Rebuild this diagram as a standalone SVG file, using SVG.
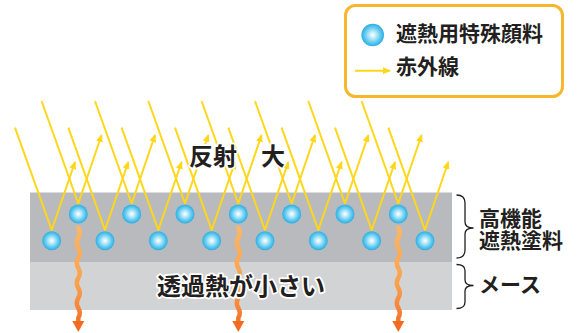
<svg xmlns="http://www.w3.org/2000/svg" width="577" height="333" viewBox="0 0 577 333">
  <defs>
    <radialGradient id="pg" cx="50%" cy="50%" r="50%">
      <stop offset="0" stop-color="#ffffff"/>
      <stop offset="0.25" stop-color="#c8eefb"/>
      <stop offset="0.7" stop-color="#5ec9ef"/>
      <stop offset="1" stop-color="#2badE2"/>
    </radialGradient>
    <linearGradient id="wg" x1="0" y1="0" x2="0" y2="1">
      <stop offset="0" stop-color="#fdb662"/>
      <stop offset="0.6" stop-color="#f9a04c"/>
      <stop offset="1" stop-color="#f3722a"/>
    </linearGradient>
    <marker id="ah" viewBox="0 0 8 7" refX="7" refY="3.5" markerWidth="8" markerHeight="7" markerUnits="userSpaceOnUse" orient="auto">
      <path d="M0,0 L8,3.5 L0,7 z" fill="#ffd71a"/>
    </marker>
  </defs>
  <style>
    .ray{fill:none;stroke:#ffd71a;stroke-width:2;stroke-linejoin:miter;marker-end:url(#ah)}
    .p{fill:url(#pg)}
    .wave{fill:none;stroke:url(#wg);stroke-width:4.5;stroke-linecap:round}
    .wh{fill:#f26b21}
    .t{font-family:"Noto Sans CJK JP","Noto Sans",sans-serif;font-weight:700;fill:#231f20}
    .halo{stroke:#ffffff;stroke-width:3.5;paint-order:stroke;stroke-linejoin:round}
    .brace{fill:none;stroke:#231f20;stroke-width:1.3}
  </style>

  <g id="layers">
    <rect id="coating" x="30" y="192.5" width="422" height="69.5" fill="#b9babd"/>
    <rect id="base" x="30" y="262" width="422" height="48" fill="#d2d3d5"/>
  </g>

  <g id="connectors">
    <polyline class="ray" points="41.6,101 78.3,203.5 101.6,135"/>
    <polyline class="ray" points="95,101 131.7,203.5 155,135"/>
    <polyline class="ray" points="148.3,101 185,203.5 208.3,135"/>
    <polyline class="ray" points="201.6,101 238.3,203.5 261.6,135"/>
    <polyline class="ray" points="255,101 291.7,203.5 315,135"/>
    <polyline class="ray" points="308.3,101 345,203.5 368.3,135"/>
    <polyline class="ray" points="361.6,101 398.3,203.5 421.6,135"/>
    <polyline class="ray" points="15,127.7 51.7,230 75,162"/>
    <polyline class="ray" points="68.3,127.7 105,230 128.3,162"/>
    <polyline class="ray" points="121.6,127.7 158.3,230 181.6,162"/>
    <polyline class="ray" points="175,127.7 211.7,230 235,162"/>
    <polyline class="ray" points="228.3,127.7 265,230 288.3,162"/>
    <polyline class="ray" points="281.6,127.7 318.3,230 341.6,162"/>
    <polyline class="ray" points="335,127.7 371.7,230 395,162"/>
    <polyline class="ray" points="388.3,127.7 425,230 448.3,162"/>
  </g>

  <g id="particles">
    <circle class="p" cx="78.3" cy="214" r="9.5"/>
    <circle class="p" cx="131.7" cy="214" r="9.5"/>
    <circle class="p" cx="185" cy="214" r="9.5"/>
    <circle class="p" cx="238.3" cy="214" r="9.5"/>
    <circle class="p" cx="291.7" cy="214" r="9.5"/>
    <circle class="p" cx="345" cy="214" r="9.5"/>
    <circle class="p" cx="398.3" cy="214" r="9.5"/>
    <circle class="p" cx="51.7" cy="240.7" r="9.5"/>
    <circle class="p" cx="105" cy="240.7" r="9.5"/>
    <circle class="p" cx="158.3" cy="240.7" r="9.5"/>
    <circle class="p" cx="211.7" cy="240.7" r="9.5"/>
    <circle class="p" cx="265" cy="240.7" r="9.5"/>
    <circle class="p" cx="318.3" cy="240.7" r="9.5"/>
    <circle class="p" cx="371.7" cy="240.7" r="9.5"/>
    <circle class="p" cx="425" cy="240.7" r="9.5"/>
  </g>

  <g id="heat">
    <g id="heat1">
      <path class="wave" d="M78.3,228 q3,5 0,10 t0,10 t0,10 t0,10 t0,10 t0,10 t0,10 t0,10 t0,10 l0,5"/>
      <path class="wh" d="M72.3,321 L84.3,321 L78.3,332 z"/>
    </g>
    <g id="heat2">
      <path class="wave" d="M238.3,228 q3,5 0,10 t0,10 t0,10 t0,10 t0,10 t0,10 t0,10 t0,10 t0,10 l0,5"/>
      <path class="wh" d="M232.3,321 L244.3,321 L238.3,332 z"/>
    </g>
    <g id="heat3">
      <path class="wave" d="M398.3,228 q3,5 0,10 t0,10 t0,10 t0,10 t0,10 t0,10 t0,10 t0,10 t0,10 l0,5"/>
      <path class="wh" d="M392.3,321 L404.3,321 L398.3,332 z"/>
    </g>
  </g>

  <g id="labels">
    <text class="t halo" x="189" y="165" font-size="24">反射　大</text>
    <text class="t halo" x="157" y="295" font-size="24">透過熱が小さい</text>
  </g>

  <g id="layer-labels">
    <path class="brace" d="M456.5,195 Q465,195 465,203 V222 Q465,228 473.5,228 Q465,228 465,234 V250 Q465,258 456.5,258"/>
    <path class="brace" d="M456.5,264.5 Q465,264.5 465,270.5 V280 Q465,285.5 473.5,285.5 Q465,285.5 465,291 V302 Q465,308.5 456.5,308.5"/>
    <text class="t" font-size="21"><tspan x="479" y="226">高機能</tspan><tspan x="479" y="247.5">遮熱塗料</tspan></text>
    <text class="t" x="479" y="292" font-size="21">メース</text>
  </g>

  <g id="legend">
    <rect x="345.5" y="5.5" width="217" height="91" rx="10" ry="10" fill="#ffffff" stroke="#f8b62d" stroke-width="3"/>
    <circle class="p" cx="372.7" cy="35" r="11.3"/>
    <line x1="355" y1="70.7" x2="390" y2="70.7" stroke="#ffd71a" stroke-width="2" marker-end="url(#ah)"/>
    <text class="t" x="396" y="40.5" font-size="21">遮熱用特殊顔料</text>
    <text class="t" x="396" y="73.5" font-size="21">赤外線</text>
  </g>
</svg>
